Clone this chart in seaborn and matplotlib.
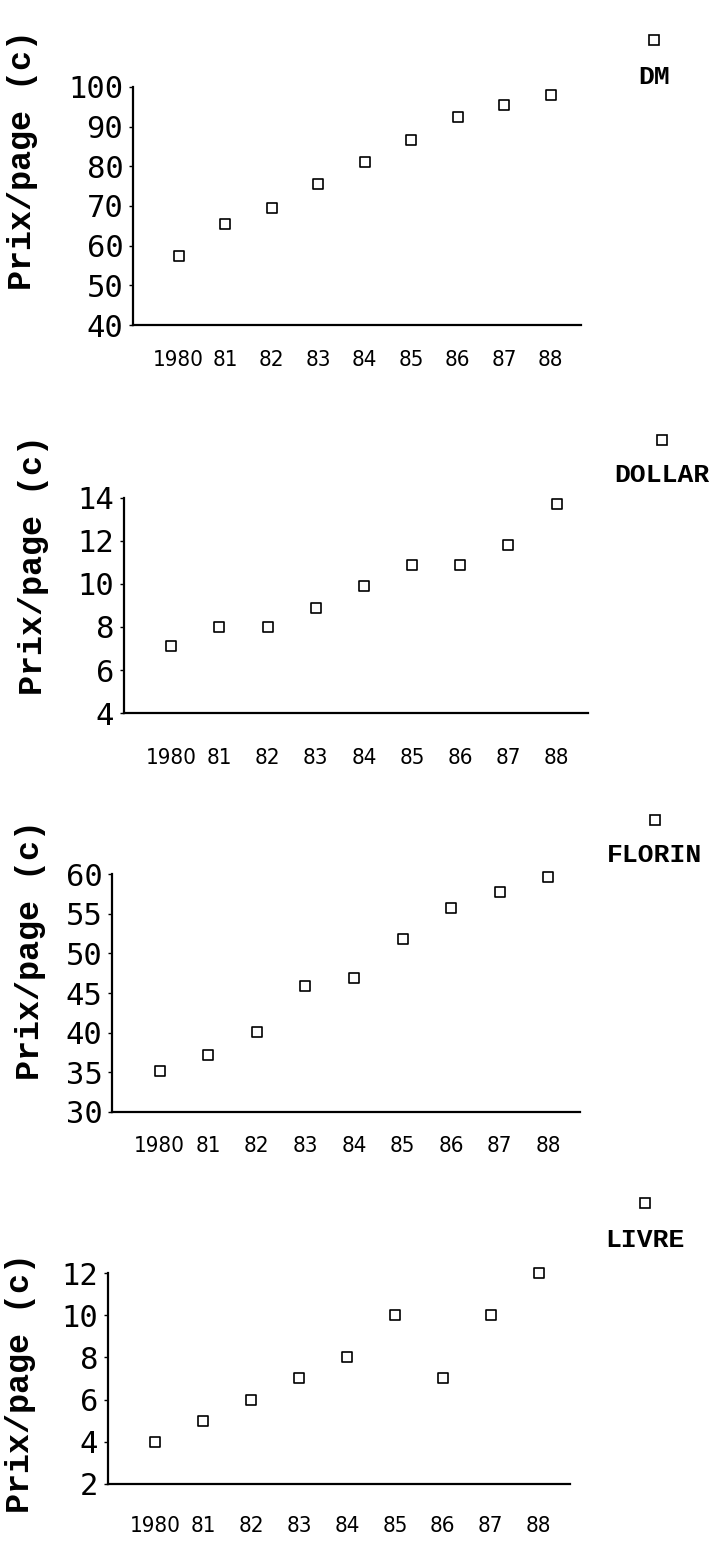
import matplotlib
matplotlib.use("Agg")
import matplotlib.pyplot as plt
import seaborn as sns
import pandas as pd

years = [1980, 1981, 1982, 1983, 1984, 1985, 1986, 1987, 1988]
year_labels = ["1980", "81", "82", "83", "84", "85", "86", "87", "88"]

dm = [57.5, 65.5, 69.5, 75.5, 81, 86.5, 92.5, 95.5, 98]
dollar = [7.1, 8, 8, 8.9, 9.9, 10.9, 10.9, 11.8, 13.7]
florin = [35.2, 37.2, 40.1, 45.9, 46.9, 51.8, 55.7, 57.7, 59.6]
livre = [4, 5, 6, 7, 8, 10, 7, 10, 12]

dm_ticks = [40, 50, 60, 70, 80, 90, 100]
dollar_ticks = [4, 6, 8, 10, 12, 14]
florin_ticks = [30, 35, 40, 45, 50, 55, 60]
livre_ticks = [2, 4, 6, 8, 10, 12]

sns.set_style("ticks")
plt.rcParams['font.family'] = ['DejaVu Sans']
plt.rcParams['text.color'] = 'black'
plt.rcParams['axes.labelcolor'] = 'black'
plt.rcParams['xtick.color'] = 'black'
plt.rcParams['ytick.color'] = 'black'

narrow = ['Liberation Sans Narrow', 'DejaVu Sans']
mono = ['DejaVu Sans Mono', 'DejaVu Sans']
label_font = ['Liberation Mono', 'DejaVu Sans Mono']

fig = plt.figure(figsize=(7.09, 15.44), dpi=100)

# name, values, ticks, axes rect, ylabel pos, key pos (x, y marker, y text), xtick pad
panels = [
    ("DM", dm, dm_ticks, [0.1876, 0.7895, 0.632, 0.1542],
     (-0.246, 0.693), (1.163, 1.197, 1.042), 18),
    ("DOLLAR", dollar, dollar_ticks, [0.1749, 0.5382, 0.6544, 0.1393],
     (-0.194, 0.688), (1.159, 1.270, 1.107), 25),
    ("FLORIN", florin, florin_ticks, [0.158, 0.2798, 0.660, 0.1541],
     (-0.175, 0.681), (1.160, 1.227, 1.080), 17),
    ("LIVRE", livre, livre_ticks, [0.1523, 0.0389, 0.6516, 0.1366],
     (-0.19, 0.479), (1.162, 1.332, 1.156), 23),
]

for name, vals, yt, rect, lab_xy, key, xpad in panels:
    ax = fig.add_axes(rect)
    df = pd.DataFrame({"year": years, "prix": vals})
    sns.scatterplot(data=df, x="year", y="prix", marker="s", s=50,
                    facecolor="white", edgecolor="black", linewidth=1.2,
                    ax=ax, clip_on=False, zorder=3)
    ax.set_xlim(1979.02, 1988.65)
    ax.set_ylim(yt[0], yt[-1])
    ax.set_xticks(years)
    ax.set_xticklabels(year_labels, fontsize=16, family=narrow, stretch='condensed')
    ax.set_yticks(yt)
    ax.set_yticklabels([str(v) for v in yt], fontsize=22, family=mono)
    ax.tick_params(axis='x', length=0, pad=xpad)
    ax.tick_params(axis='y', length=3, width=1, pad=4)
    sns.despine(ax=ax)
    for s in ax.spines.values():
        s.set_linewidth(1.6)
        s.set_color("black")

    ax.set_xlabel("")
    ax.set_ylabel("Prix/page (c)", fontsize=24, fontweight='bold', family=label_font)
    ax.yaxis.set_label_coords(*lab_xy)
    ax.yaxis.label.set(va='center', rotation_mode='default')

    # legend key: marker above the currency name
    ax.plot([key[0]], [key[1]], marker='s', markersize=7, markerfacecolor='white',
            markeredgecolor='black', markeredgewidth=1.2, linestyle='none',
            transform=ax.transAxes, clip_on=False)
    ax.text(key[0], key[2], name, transform=ax.transAxes, ha='center', va='center',
            fontsize=19, fontweight='bold', family=label_font)

fig.savefig("out.png", dpi=100)
